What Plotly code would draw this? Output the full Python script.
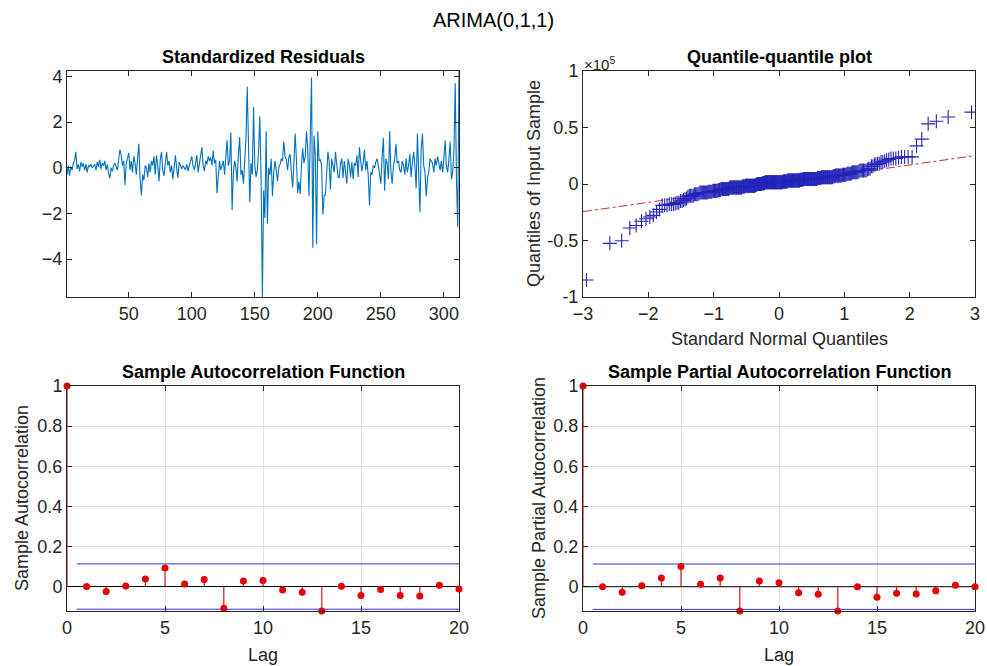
import plotly.graph_objects as go
from statistics import NormalDist

# ---------------- data ----------------
std_residuals = [
    -0.3, 0.1, -0.35, 0.05, -0.1, 0.2, 0.3, 0.7, -0.05, 0.15,
    -0.15, 0.25, 0.05, 0.2, -0.1, 0.15, -0.2, 0.1, 0.05, 0.15,
    0.0, 0.1, 0.15, -0.1, 0.25, 0.05, 0.35, -0.05, 0.2, 0.1,
    0.3, -0.1, 0.15, -0.25, -0.45, 0.0, -0.15, 0.1, 0.2, 0.05,
    -0.1, 0.35, 0.8, 0.55, 0.1, 0.3, -0.75, 0.2, 0.4, 0.65,
    -0.1, 0.3, -0.2, 0.5, 0.2, -0.3, 0.4, 1.05, -0.5, -1.2,
    -0.3, -0.55, 0.1, 0.0, -0.4, 0.2, -0.2, 0.3, 0.1, 0.5,
    -0.3, 0.55, 0.1, -0.6, 0.35, 0.7, -0.1, -0.35, 0.2, 0.7,
    0.1, 0.3, -0.2, 0.1, -0.5, 0.2, 0.55, 0.0, -0.45, 0.25,
    0.1, -0.05, 0.1, 0.0, -0.1, 0.15, -0.15, 0.1, 0.3, 0.5,
    0.1, -0.1, 0.2, 0.55, -0.2, 0.25, 0.6, 0.9, 0.1, -0.15,
    0.3, 0.15, 0.5, 0.3, 0.45, 0.1, 0.75, 0.2, 0.35, -1.1,
    -0.4, 0.3, -0.1, 0.15, 0.3, -0.3, 0.4, 1.2, 0.1, 0.3,
    1.55, -1.85, -0.2, 0.3, 0.0, -0.6, 0.6, 1.35, -0.3, -0.1,
    -0.7, 0.45, 1.3, 3.55, 0.5, -1.5, 0.2, -0.3, 2.65, 0.1,
    -0.4, -0.1, 0.8, 2.25, -0.5, -5.66, -1.0, -2.2, 1.6, -2.45,
    0.0, -0.3, 0.4, -1.25, -0.2, 0.3, -0.1, -0.6, 0.0, 0.15,
    0.4, 0.3, 1.15, 0.5, 0.35, -0.1, 0.45, 0.6, -0.2, -0.85,
    0.2, 1.5, 0.4, -1.1, -0.6, -1.15, 0.1, 0.85, 0.2, 0.5,
    1.6, 0.8, -1.25, 1.45, 3.95, -3.5, 1.4, 0.6, -3.35, 1.6,
    0.3, 0.35, 0.1, -2.05, -1.2, -1.2, 0.1, 0.7, 0.3, -0.95,
    0.4, 0.1, -0.2, 0.7, 0.2, -0.4, -0.45, 0.2, 0.4, -0.45,
    0.3, -0.1, -0.7, 0.4, 0.1, -0.4, 0.25, -0.5, 0.2, 0.1,
    0.55, -0.4, 0.9, 0.3, -0.15, 0.2, 0.8, -0.1, 0.3, -0.35,
    -1.65, -0.2, -0.3, 0.1, 0.0, 0.25, 0.4, 0.1, -0.3, -0.7,
    0.5, 1.3, -1.0, 0.4, 0.2, -0.5, 1.6, -0.2, -0.7, 0.1,
    0.4, 1.05, 0.2, 0.3, -0.1, -0.2, 0.3, 0.1, -0.3, 0.4,
    -0.2, 0.1, 0.6, -0.4, 0.2, 0.7, 0.1, -0.9, 1.5, -0.5,
    -1.95, 0.8, 1.5, 0.1, -0.2, -1.25, -0.45, -0.2, 0.4, 0.3,
    0.2, -0.2, 0.4, 0.1, 0.5, 0.2, -0.1, 0.3, -0.2, 0.4,
    1.2, 0.1, -0.2, 0.4, 1.15, -0.5, -0.2, 0.8, 3.7, -0.5,
    -2.6, 4.24,
]
residual_scale = 15000.0          # raw residual std (QQ plot units)
qq_line_x = [-3.0, 2.95]
qq_line_y = [-24500.0, 24700.0]

lags = list(range(21))
acf_values = [1.0, 0.0, -0.025, 0.003, 0.038, 0.092, 0.013, 0.035, -0.108, 0.027,
              0.030, -0.017, -0.028, -0.122, 0.002, -0.045, -0.015, -0.045, -0.047,
              0.007, -0.012]
pacf_values = [1.0, 0.0, -0.027, 0.005, 0.043, 0.101, 0.012, 0.043, -0.121, 0.028,
               0.020, -0.030, -0.038, -0.121, 0.0, -0.053, -0.033, -0.036, -0.020,
               0.007, 0.0]
conf_bound = 0.113
bound_x = [0.5, 20]

resid_xticks = [50, 100, 150, 200, 250, 300]
resid_yticks = [-4, -2, 0, 2, 4]
qq_xticks = [-3, -2, -1, 0, 1, 2, 3]
qq_yticks = [-1e5, -0.5e5, 0, 0.5e5, 1e5]
qq_yticktext = ["-1", "-0.5", "0", "0.5", "1"]
corr_xticks = [0, 5, 10, 15, 20]
corr_yticks = [0, 0.2, 0.4, 0.6, 0.8, 1]
corr_yticktext = ["0", "0.2", "0.4", "0.6", "0.8", "1"]

# ---------------- figure ----------------
W, H = 987, 666
FONT = "Liberation Sans, Arial, Helvetica, sans-serif"
AX = "#262626"


def px_x(p):
    return p / W


def px_y(p):
    return (H - p) / H


fig = go.Figure()

n = len(std_residuals)
t = list(range(1, n + 1))
fig.add_trace(go.Scatter(x=t, y=std_residuals, mode="lines",
                         line=dict(color="#0072BD", width=1.1),
                         xaxis="x", yaxis="y", showlegend=False))

# QQ plot (sorted sample vs standard normal quantiles)
nd = NormalDist()
qq_x = [nd.inv_cdf((i + 0.5) / n) for i in range(n)]
qq_y = [v * residual_scale for v in sorted(std_residuals)]
fig.add_trace(go.Scatter(x=qq_line_x, y=qq_line_y, mode="lines",
                         line=dict(color="#d22c2c", width=1, dash="dashdot"),
                         xaxis="x2", yaxis="y2", showlegend=False))
fig.add_trace(go.Scatter(x=qq_x, y=qq_y, mode="markers",
                         marker=dict(symbol="cross-thin", size=10,
                                     line=dict(color="#2424b8", width=1.1)),
                         xaxis="x2", yaxis="y2", showlegend=False))


def add_corr(vals, xa, ya):
    sx, sy = [], []
    for k, v in zip(lags, vals):
        sx += [k, k, None]
        sy += [0, v, None]
    fig.add_trace(go.Scatter(x=bound_x, y=[conf_bound, conf_bound], mode="lines",
                             line=dict(color="#3030e0", width=1),
                             xaxis=xa, yaxis=ya, showlegend=False))
    fig.add_trace(go.Scatter(x=bound_x, y=[-conf_bound, -conf_bound], mode="lines",
                             line=dict(color="#3030e0", width=1),
                             xaxis=xa, yaxis=ya, showlegend=False))
    fig.add_trace(go.Scatter(x=[lags[0], lags[-1]], y=[0, 0], mode="lines",
                             line=dict(color="black", width=1),
                             xaxis=xa, yaxis=ya, showlegend=False))
    fig.add_trace(go.Scatter(x=sx, y=sy, mode="lines",
                             line=dict(color="#c81e1e", width=1.2),
                             cliponaxis=False,
                             xaxis=xa, yaxis=ya, showlegend=False))
    fig.add_trace(go.Scatter(x=lags, y=vals, mode="markers",
                             marker=dict(color="#e60000", size=7),
                             cliponaxis=False,
                             xaxis=xa, yaxis=ya, showlegend=False))


add_corr(acf_values, "x3", "y3")
add_corr(pacf_values, "x4", "y4")

base_axis = dict(showline=True, linecolor=AX, linewidth=1, mirror="ticks",
                 ticks="inside", ticklen=5, tickcolor=AX, tickwidth=1,
                 zeroline=False, showgrid=False, automargin=False,
                 tickfont=dict(family=FONT, size=18, color=AX))

dom_left = [px_x(67), px_x(459)]
dom_right = [px_x(583), px_x(975)]
dom_top = [px_y(297), px_y(71)]
dom_bot = [px_y(611), px_y(386)]

grid = dict(showgrid=True, gridcolor="#e3e3e3", gridwidth=1)

fig.update_layout(
    width=W, height=H, autosize=False,
    margin=dict(l=0, r=0, t=0, b=0, pad=0, autoexpand=False),
    paper_bgcolor="white", plot_bgcolor="white",
    showlegend=False,
    xaxis=dict(base_axis, domain=dom_left, anchor="y", range=[1, n],
               tickvals=resid_xticks),
    yaxis=dict(base_axis, domain=dom_top, anchor="x",
               range=[min(std_residuals), max(std_residuals)],
               tickvals=resid_yticks),
    xaxis2=dict(base_axis, domain=dom_right, anchor="y2", range=[-3, 3],
                tickvals=qq_xticks),
    yaxis2=dict(base_axis, domain=dom_top, anchor="x2", range=[-1e5, 1e5],
                tickvals=qq_yticks, ticktext=qq_yticktext),
    xaxis3=dict(base_axis, **grid, domain=dom_left, anchor="y3", range=[0, 20],
                tickvals=corr_xticks),
    yaxis3=dict(base_axis, **grid, domain=dom_bot, anchor="x3",
                range=[min(acf_values), 1], tickvals=corr_yticks,
                ticktext=corr_yticktext, layer="below traces"),
    xaxis4=dict(base_axis, **grid, domain=dom_right, anchor="y4", range=[0, 20],
                tickvals=corr_xticks),
    yaxis4=dict(base_axis, **grid, domain=dom_bot, anchor="x4",
                range=[min(pacf_values), 1], tickvals=corr_yticks,
                ticktext=corr_yticktext, layer="below traces"),
)


def ann(text, x, y, size=18, bold=False, angle=0, color="black", xanchor="center"):
    if bold:
        text = "<b>" + text + "</b>"
    fig.add_annotation(text=text, x=px_x(x), y=px_y(y), xref="paper", yref="paper",
                       showarrow=False, textangle=angle, xanchor=xanchor,
                       yanchor="middle",
                       font=dict(family=FONT, size=size, color=color))


ann("ARIMA(0,1,1)", 493, 20, size=20)
ann("Standardized Residuals", 263, 57, size=18, bold=True)
ann("Quantile-quantile plot", 779, 57, size=18, bold=True)
ann("Sample Autocorrelation Function", 263, 372, size=18, bold=True)
ann("Sample Partial Autocorrelation Function", 779, 372, size=18, bold=True)
ann("Standard Normal Quantiles", 779, 339, color=AX)
ann("Quantiles of Input Sample", 534, 184, angle=-90, color=AX)
ann("Lag", 263, 655, color=AX)
ann("Lag", 779, 655, color=AX)
ann("Sample Autocorrelation", 22, 498, angle=-90, color=AX)
ann("Sample Partial Autocorrelation", 539, 498, angle=-90, color=AX)
ann("×10<sup>5</sup>", 582, 63, size=15, color=AX, xanchor="left")

fig.write_html(
    "out.html",
    post_script="document.body.style.margin='0';"
                "document.body.style.overflow='hidden';",
)
